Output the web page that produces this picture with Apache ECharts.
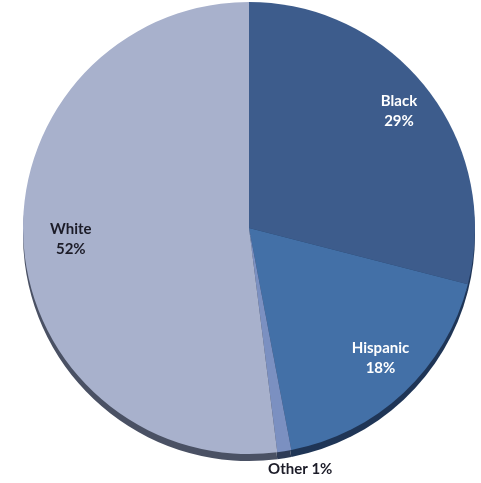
<!DOCTYPE html>
<html>
<head>
<meta charset="utf-8">
<script src="https://cdn.jsdelivr.net/npm/echarts@6/dist/echarts.min.js"></script>
<style>
  html, body { margin: 0; padding: 0; background: #ffffff; }
  #chart { width: 481px; height: 483px; }
</style>
</head>
<body>
<div id="chart"></div>
<script>
// Share of population by race/ethnicity (percent)
const categories = ['Black', 'Hispanic', 'Other', 'White'];
const shares = [29, 18, 1, 52];

// Face colours and the darker rim colours used for the pie's depth edge
const faceColors = { Black: '#3d5c8c', Hispanic: '#4370a7', Other: '#7b90c1', White: '#a8b1cc' };
const rimColors  = { Black: '#1f3557', Hispanic: '#1f3556', Other: '#2e3b56', White: '#4a5164' };

// Label styling per slice: text colour, distance from centre (fraction of radius), angle nudge (deg)
const labelStyle = {
  Black:    { color: '#ffffff', r: 0.84, nudge: 0,  oneLine: false },
  Hispanic: { color: '#ffffff', r: 0.82, nudge: -2, oneLine: false },
  Other:    { color: '#1c1c28', r: 1.09, nudge: -3, oneLine: true },
  White:    { color: '#1c1c28', r: 0.79, nudge: 0,  oneLine: false }
};

const CX = 249, CY = 228, R = 226, DEPTH = 7;

const total = shares.reduce((a, b) => a + b, 0);
// mid-angle of each slice, degrees clockwise from 12 o'clock
const midAngles = [];
let acc = 0;
shares.forEach(v => {
  midAngles.push((acc + v / 2) / total * 360);
  acc += v;
});

const pieData = categories.map((name, i) => ({
  name: name,
  value: shares[i],
  itemStyle: { color: faceColors[name] },
  label: { color: labelStyle[name].color }
}));

const rimData = categories.map((name, i) => ({
  name: name,
  value: shares[i],
  itemStyle: { color: rimColors[name] }
}));

const chart = echarts.init(document.getElementById('chart'), null, { renderer: 'canvas' });

chart.setOption({
  animation: false,
  backgroundColor: '#ffffff',
  series: [
    {
      // depth edge drawn slightly below the face
      type: 'pie',
      silent: true,
      center: [CX, CY + DEPTH],
      radius: [0, R],
      startAngle: 90,
      clockwise: true,
      label: { show: false },
      labelLine: { show: false },
      itemStyle: { borderWidth: 0 },
      data: rimData,
      z: 1
    },
    {
      type: 'pie',
      center: [CX, CY],
      radius: [0, R],
      startAngle: 90,
      clockwise: true,
      itemStyle: { borderWidth: 0 },
      label: {
        show: true,
        position: 'inside',
        fontFamily: 'Lato',
        fontWeight: 'bold',
        fontSize: 15,
        lineHeight: 20,
        formatter: p => labelStyle[p.name].oneLine
          ? p.name + ' ' + p.value + '%'
          : p.name + '\n' + p.value + '%'
      },
      labelLine: { show: false },
      labelLayout: function (params) {
        const name = categories[params.dataIndex];
        const st = labelStyle[name];
        const a = (midAngles[params.dataIndex] + st.nudge) * Math.PI / 180;
        return {
          x: CX + R * st.r * Math.sin(a),
          y: CY - R * st.r * Math.cos(a),
          align: 'center',
          verticalAlign: 'middle'
        };
      },
      data: pieData,
      z: 2
    }
  ]
});
</script>
</body>
</html>
